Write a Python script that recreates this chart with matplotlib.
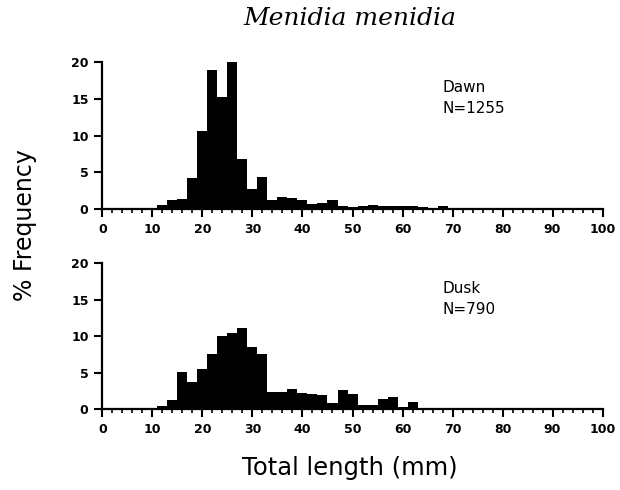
import numpy as np
import matplotlib.pyplot as plt
from matplotlib.ticker import MultipleLocator

# bin centres (2 mm bins)
bins = list(range(12, 100, 2))

dawn = [0.6, 1.3, 1.4, 4.3, 10.6, 18.9, 15.2, 20.0, 6.8, 2.7,
        4.4, 1.2, 1.7, 1.5, 1.2, 0.7, 0.9, 1.2, 0.5, 0.35,
        0.45, 0.55, 0.45, 0.45, 0.45, 0.4, 0.35, 0.2, 0.5, 0.1,
        0.1, 0.1, 0.0, 0.1, 0.0, 0.1, 0.0, 0.0, 0.0, 0.0,
        0.0, 0.0, 0.0, 0.0]

dusk = [0.5, 1.3, 5.1, 3.8, 5.5, 7.6, 10.0, 10.4, 11.1, 8.6,
        7.6, 2.4, 2.4, 2.8, 2.2, 2.05, 1.95, 0.9, 2.6, 2.05,
        0.65, 0.65, 1.4, 1.65, 0.35, 0.95, 0.1, 0.2, 0.2, 0.1,
        0.1, 0.1, 0.0, 0.1, 0.1, 0.0, 0.15, 0.0, 0.0, 0.0,
        0.15, 0.0, 0.0, 0.15]

panels = [("Dawn", "N=1255", dawn), ("Dusk", "N=790", dusk)]
yticks = [0, 5, 10, 15, 20]
xticks = list(range(0, 101, 10))

fig = plt.figure(figsize=(6.2, 4.9), dpi=100)
ax_top = fig.add_axes([0.1653, 0.5729, 0.8065, 0.3006])
ax_bot = fig.add_axes([0.1653, 0.1647, 0.8065, 0.2980])

for ax, (label, n, vals) in zip([ax_top, ax_bot], panels):
    ax.bar(bins, vals, width=2, color='black', linewidth=0)
    ax.set_xlim(0, 100)
    ax.set_ylim(0, 20)
    ax.spines['top'].set_visible(False)
    ax.spines['right'].set_visible(False)
    ax.spines['left'].set_linewidth(1.6)
    ax.spines['bottom'].set_linewidth(1.6)
    ax.set_xticks(xticks)
    ax.set_yticks(yticks)
    ax.xaxis.set_minor_locator(MultipleLocator(2))
    ax.tick_params(axis='both', which='major', direction='out', length=6,
                   width=1.5, labelsize=9, pad=4)
    ax.tick_params(axis='x', which='minor', direction='out', length=3, width=1.2)
    for t in ax.get_xticklabels() + ax.get_yticklabels():
        t.set_fontweight('bold')
    ax.text(68, 16.5, label, fontsize=11, va='center')
    ax.text(68, 13.7, n, fontsize=11, va='center')

fig.text(0.565, 0.963, "Menidia menidia", fontsize=18, family='DejaVu Serif',
         style='italic', ha='center', va='center')
fig.text(0.04, 0.54, "% Frequency", fontsize=17, rotation=90,
         ha='center', va='center')
fig.text(0.565, 0.045, "Total length (mm)", fontsize=17.5,
         ha='center', va='center')

fig.savefig('out.png', dpi=100)
